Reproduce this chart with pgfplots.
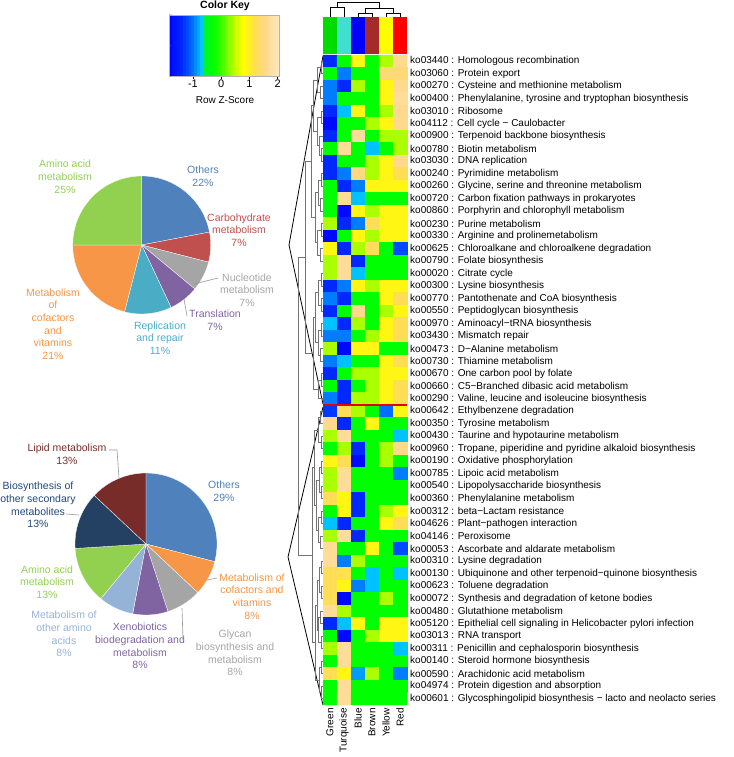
\documentclass[border=0pt]{standalone}
\usepackage{pgfplots}
\pgfplotsset{compat=1.18}
\usepackage{fontspec}
\setmainfont{Liberation Sans}
\definecolor{pblue}{RGB}{79,129,189}
\definecolor{pred}{RGB}{192,80,77}
\definecolor{pgray}{RGB}{165,165,165}
\definecolor{ppurple}{RGB}{128,100,162}
\definecolor{paqua}{RGB}{75,172,198}
\definecolor{porange}{RGB}{247,150,70}
\definecolor{pgreen}{RGB}{146,208,80}
\definecolor{plblue}{RGB}{149,179,215}
\definecolor{pnavy}{RGB}{36,64,98}
\definecolor{pnavytxt}{RGB}{31,73,125}
\definecolor{pdred}{RGB}{119,44,42}
\definecolor{cGreen}{RGB}{0,220,0}
\definecolor{cTurq}{RGB}{64,224,208}
\definecolor{cBlue}{RGB}{0,0,255}
\definecolor{cBrown}{RGB}{165,42,42}
\definecolor{cYellow}{RGB}{255,255,0}
\definecolor{cRed}{RGB}{255,0,0}
\definecolor{leader}{RGB}{150,150,150}
\pgfplotsset{colormap={hm}{rgb255(0pt)=(0,0,255); rgb255(45pt)=(0,40,255); rgb255(85pt)=(0,110,255); rgb255(115pt)=(0,200,255); rgb255(121pt)=(0,240,60); rgb255(155pt)=(0,255,0); rgb255(185pt)=(50,255,0); rgb255(225pt)=(170,255,0); rgb255(265pt)=(255,255,0); rgb255(300pt)=(255,225,70); rgb255(340pt)=(255,215,135); rgb255(390pt)=(255,232,192)}}
\newcommand{\dn}[5]{\addplot[dendro] coordinates {(#2,#3) (#1,#3) (#1,#5) (#4,#5)};}
\begin{document}
\begin{tikzpicture}
\useasboundingbox (0,0) rectangle (733pt,-757pt);
\tikzset{pl/.style={font=\fontsize{10.5}{12.7}\selectfont, align=center, inner sep=0pt}}
% ---------------- upper pie
\begin{scope}[shift={(141.7pt,-245pt)}]
\foreach \p/\c [remember=\e as \s (initially 90)] in {22/pblue,7/pred,7/pgray,7/ppurple,11/paqua,21/porange,25/pgreen}{
  \pgfmathsetmacro{\e}{\s-3.6*\p}
  \fill[\c, draw=white, line width=0.3pt] (0,0) -- (\s:69pt) arc[start angle=\s, end angle=\e, radius=69pt] -- cycle;
}
\end{scope}
% ---------------- lower pie
\begin{scope}[shift={(146pt,-544pt)}]
\foreach \p/\c [remember=\e as \s (initially 90)] in {29/pblue,8/porange,8/pgray,8/ppurple,8/plblue,13/pgreen,13/pnavy,13/pdred}{
  \pgfmathsetmacro{\e}{\s-3.6*\p}
  \fill[\c, draw=white, line width=0.3pt] (0,0) -- (\s:71pt) arc[start angle=\s, end angle=\e, radius=71pt] -- cycle;
}
\end{scope}
% ---------------- pie labels
\node[pl, text=pgreen] at (65pt,-176.7pt) {Amino acid\\metabolism\\25\%};
\node[pl, text=pblue] at (203pt,-176pt) {Others\\22\%};
\node[pl, text=pred] at (239pt,-230pt) {Carbohydrate\\metabolism\\7\%};
\node[pl, text=pgray] at (247pt,-290pt) {Nucleotide\\metabolism\\7\%};
\node[pl, text=ppurple] at (215pt,-320pt) {Translation\\7\%};
\node[pl, text=paqua] at (160pt,-338pt) {Replication\\and repair\\11\%};
\node[pl, text=porange] at (53pt,-324pt) {Metabolism\\of\\cofactors\\and\\vitamins\\21\%};
\node[pl, text=pdred] at (67pt,-454pt) {Lipid metabolism\\13\%};
\node[pl, text=pnavytxt] at (38pt,-505pt) {Biosynthesis of\\other secondary\\metabolites\\13\%};
\node[pl, text=pblue] at (224pt,-491pt) {Others\\29\%};
\node[pl, text=pgreen] at (47pt,-582pt) {Amino acid\\metabolism\\13\%};
\node[pl, text=porange] at (252pt,-596.5pt) {Metabolism of\\cofactors and\\vitamins\\8\%};
\node[pl, text=plblue] at (64pt,-634pt) {Metabolism of\\other amino\\acids\\8\%};
\node[pl, text=ppurple] at (140pt,-646pt) {Xenobiotics\\biodegradation and\\metabolism\\8\%};
\node[pl, text=pgray] at (235pt,-653pt) {Glycan\\biosynthesis and\\metabolism\\8\%};
% ---------------- colour key
\begin{axis}[at={(169pt,-15pt)}, anchor=north west, scale only axis, width=110pt, height=61pt,
  xmin=-1.85, xmax=2.05, ymin=0, ymax=1, colormap name=hm, point meta min=-1.85, point meta max=2.05,
  xtick={-1,0,1,2}, ytick=\empty, xtick pos=bottom, tick align=outside, major tick length=3pt,
  axis line style={draw=gray!60, line width=0.4pt}, tick style={black, line width=0.5pt},
  xticklabel style={font=\fontsize{11}{12}\selectfont, inner sep=1pt},
  /pgf/number format/assume math mode=true, axis on top]
\addplot[matrix plot*, mesh/cols=39, point meta=x] coordinates {
(-1.8,0.25) (-1.7,0.25) (-1.6,0.25) (-1.5,0.25) (-1.4,0.25) (-1.3,0.25) (-1.2,0.25) (-1.1,0.25) (-1.0,0.25) (-0.9,0.25) (-0.8,0.25) (-0.7,0.25) (-0.6,0.25) (-0.5,0.25) (-0.4,0.25) (-0.3,0.25) (-0.2,0.25) (-0.1,0.25) (0.0,0.25) (0.1,0.25) (0.2,0.25) (0.3,0.25) (0.4,0.25) (0.5,0.25) (0.6,0.25) (0.7,0.25) (0.8,0.25) (0.9,0.25) (1.0,0.25) (1.1,0.25) (1.2,0.25) (1.3,0.25) (1.4,0.25) (1.5,0.25) (1.6,0.25) (1.7,0.25) (1.8,0.25) (1.9,0.25) (2.0,0.25)
(-1.8,0.75) (-1.7,0.75) (-1.6,0.75) (-1.5,0.75) (-1.4,0.75) (-1.3,0.75) (-1.2,0.75) (-1.1,0.75) (-1.0,0.75) (-0.9,0.75) (-0.8,0.75) (-0.7,0.75) (-0.6,0.75) (-0.5,0.75) (-0.4,0.75) (-0.3,0.75) (-0.2,0.75) (-0.1,0.75) (0.0,0.75) (0.1,0.75) (0.2,0.75) (0.3,0.75) (0.4,0.75) (0.5,0.75) (0.6,0.75) (0.7,0.75) (0.8,0.75) (0.9,0.75) (1.0,0.75) (1.1,0.75) (1.2,0.75) (1.3,0.75) (1.4,0.75) (1.5,0.75) (1.6,0.75) (1.7,0.75) (1.8,0.75) (1.9,0.75) (2.0,0.75)
};
\end{axis}
\node[font=\fontsize{10.5}{12}\selectfont\bfseries] at (225pt,-6pt) {Color Key};
\node[font=\fontsize{10}{12}\selectfont] at (225pt,-100pt) {Row Z-Score};
% ---------------- connectors and leaders
\begin{axis}[at={(0pt,0pt)}, anchor=north west, scale only axis, width=733pt, height=757pt,
  xmin=0, xmax=733, ymin=0, ymax=757, y dir=reverse, hide axis, clip=false]
\addplot[black, line width=0.8pt] coordinates {(323,56) (289,245) (323,404)};
\addplot[black, line width=0.8pt] coordinates {(323,407) (288,557) (323,705)};
\addplot[leader, line width=0.6pt] coordinates {(194,284) (218,278)};
\addplot[leader, line width=0.6pt] coordinates {(184,299) (187,316)};
\addplot[leader, line width=0.6pt] coordinates {(109,450) (117,450) (119,478)};
\addplot[leader, line width=0.6pt] coordinates {(66,514) (79,515)};
\addplot[leader, line width=0.6pt] coordinates {(207,580) (217,578)};
\addplot[leader, line width=0.6pt] coordinates {(182,608) (183,640)};
\end{axis}
% ---------------- row dendrogram
\begin{axis}[at={(296pt,-1.25pt)}, anchor=north west, scale only axis, width=27pt, height=703.75pt,
  xmin=296, xmax=323, ymin=-3.8, ymax=52.5, y dir=reverse, hide axis, clip=false,
  dendro/.style={draw=black!55, line width=0.6pt}]
\dn{321}{323}{1}{323}{2}
\dn{320}{323}{3}{323}{4}
\dn{317}{321}{1.5}{320}{3.5}
\dn{321}{323}{5}{323}{6}
\dn{321.5}{323}{8}{323}{9}
\dn{319}{323}{7}{321.5}{8.5}
\dn{317}{321}{5.5}{319}{7.75}
\dn{313}{317}{2.5}{317}{6.625}
\dn{321}{323}{10}{323}{11}
\dn{320.5}{323}{12}{323}{13}
\dn{318}{321}{10.5}{320.5}{12.5}
\dn{321}{323}{14}{323}{15}
\dn{320}{323}{16}{323}{17}
\dn{317.5}{321}{14.5}{320}{16.5}
\dn{315}{318}{11.5}{317.5}{15.5}
\dn{311}{313}{4.5625}{315}{13.5}
\dn{321}{323}{18}{323}{19}
\dn{321.5}{323}{20}{323}{21}
\dn{318.5}{321}{18.5}{321.5}{20.5}
\dn{321}{323}{22}{323}{23}
\dn{320.5}{323}{24}{323}{25}
\dn{318}{321}{22.5}{320.5}{24.5}
\dn{315.5}{318.5}{19.5}{318}{23.5}
\dn{321}{323}{26}{323}{27}
\dn{318.5}{321}{26.5}{323}{28}
\dn{313}{315.5}{21.5}{318.5}{27.25}
\dn{305}{311}{9.03}{313}{24.375}
\dn{320}{323}{29}{323}{30}
\dn{321}{323}{31}{323}{32}
\dn{318}{320}{29.5}{321}{31.5}
\dn{321.5}{323}{33}{323}{34}
\dn{321}{323}{35}{323}{36}
\dn{319}{321.5}{33.5}{321}{35.5}
\dn{321}{323}{37}{323}{38}
\dn{320.5}{323}{39}{323}{40}
\dn{318.5}{321}{37.5}{320.5}{39.5}
\dn{316.5}{319}{34.5}{318.5}{38.5}
\dn{314.5}{318}{30.5}{316.5}{36.5}
\dn{321}{323}{41}{323}{42}
\dn{321.5}{323}{43}{323}{44}
\dn{319}{321}{41.5}{321.5}{43.5}
\dn{320}{323}{45}{323}{46}
\dn{321}{323}{47}{323}{48}
\dn{318.5}{320}{45.5}{321}{47.5}
\dn{317}{319}{42.5}{318.5}{46.5}
\dn{321}{323}{49}{323}{50}
\dn{321.5}{323}{51}{323}{52}
\dn{319}{321}{49.5}{321.5}{51.5}
\dn{315.5}{317}{44.5}{319}{50.5}
\dn{312}{314.5}{33.5}{315.5}{47.5}
\dn{298}{305}{16.7}{312}{40.5}
\end{axis}
% ---------------- heatmap
\begin{axis}[at={(296pt,-1.25pt)}, anchor=north west, scale only axis, width=111pt, height=703.75pt,
  xmin=-2.428571, xmax=5.5, ymin=-3.8, ymax=52.5, y dir=reverse, clip=false,
  axis line style={draw=none}, major tick length=0pt,
  colormap name=hm, point meta min=-1.85, point meta max=2.05,
  xtick=\empty,
  ytick={1,...,52}, yticklabel pos=right,
  yticklabel style={font=\fontsize{10}{11}\selectfont, anchor=west, inner sep=0pt, xshift=3pt},
  yticklabels={ko03440 : Homologous recombination, ko03060 : Protein export, ko00270 : Cysteine and methionine metabolism, {ko00400 : Phenylalanine, tyrosine and tryptophan biosynthesis}, ko03010 : Ribosome, ko04112 : Cell cycle − Caulobacter, ko00900 : Terpenoid backbone biosynthesis, ko00780 : Biotin metabolism, ko03030 : DNA replication, ko00240 : Pyrimidine metabolism, {ko00260 : Glycine, serine and threonine metabolism}, ko00720 : Carbon fixation pathways in prokaryotes, ko00860 : Porphyrin and chlorophyll metabolism, ko00230 : Purine metabolism, ko00330 : Arginine and prolinemetabolism, ko00625 : Chloroalkane and chloroalkene degradation, ko00790 : Folate biosynthesis, ko00020 : Citrate cycle, ko00300 : Lysine biosynthesis, ko00770 : Pantothenate and CoA biosynthesis, ko00550 : Peptidoglycan biosynthesis, ko00970 : Aminoacyl−tRNA biosynthesis, ko03430 : Mismatch repair, ko00473 : D−Alanine metabolism, ko00730 : Thiamine metabolism, ko00670 : One carbon pool by folate, ko00660 : C5−Branched dibasic acid metabolism, {ko00290 : Valine, leucine and isoleucine biosynthesis}, ko00642 : Ethylbenzene degradation, ko00350 : Tyrosine metabolism, ko00430 : Taurine and hypotaurine metabolism, {ko00960 : Tropane, piperidine and pyridine alkaloid biosynthesis}, ko00190 : Oxidative phosphorylation, ko00785 : Lipoic acid metabolism, ko00540 : Lipopolysaccharide biosynthesis, ko00360 : Phenylalanine metabolism, ko00312 : beta−Lactam resistance, ko04626 : Plant−pathogen interaction, ko04146 : Peroxisome, ko00053 : Ascorbate and aldarate metabolism, ko00310 : Lysine degradation, ko00130 : Ubiquinone and other terpenoid−quinone biosynthesis, ko00623 : Toluene degradation, ko00072 : Synthesis and degradation of ketone bodies, ko00480 : Glutathione metabolism, ko05120 : Epithelial cell signaling in Helicobacter pylori infection, ko03013 : RNA transport, ko00311 : Penicillin and cephalosporin biosynthesis, ko00140 : Steroid hormone biosynthesis, ko00590 : Arachidonic acid metabolism, ko04974 : Protein digestion and absorption, ko00601 : Glycosphingolipid biosynthesis − lacto and neolacto series}]
\addplot[matrix plot*, mesh/cols=6, point meta=explicit] coordinates {
(0,1)[-1.4] (1,1)[-0.3] (2,1)[0.9] (3,1)[-0.3] (4,1)[0.4] (5,1)[1.6]
(0,2)[-0.3] (1,2)[-0.95] (2,2)[-0.3] (3,2)[-0.3] (4,2)[1.45] (5,2)[1.45]
(0,3)[-0.95] (1,3)[-1.4] (2,3)[0.4] (3,3)[-0.3] (4,3)[0.9] (5,3)[1.6]
(0,4)[-0.95] (1,4)[-0.3] (2,4)[-0.3] (3,4)[-0.3] (4,4)[0.9] (5,4)[1.7]
(0,5)[-1.4] (1,5)[-0.72] (2,5)[0.9] (3,5)[-0.3] (4,5)[0.4] (5,5)[1.6]
(0,6)[-1.75] (1,6)[-0.3] (2,6)[-0.3] (3,6)[0.4] (4,6)[0.9] (5,6)[1.6]
(0,7)[-1.4] (1,7)[-0.3] (2,7)[1.7] (3,7)[-0.3] (4,7)[0.4] (5,7)[0.4]
(0,8)[-0.3] (1,8)[1.7] (2,8)[-0.3] (3,8)[-0.72] (4,8)[-0.3] (5,8)[0.4]
(0,9)[-1.4] (1,9)[-0.3] (2,9)[-0.3] (3,9)[0.4] (4,9)[0.9] (5,9)[1.6]
(0,10)[-1.4] (1,10)[-0.95] (2,10)[1.5] (3,10)[0.4] (4,10)[0.9] (5,10)[1.25]
(0,11)[-0.3] (1,11)[-1.4] (2,11)[-0.95] (3,11)[0.9] (4,11)[0.9] (5,11)[0.9]
(0,12)[-0.3] (1,12)[1.7] (2,12)[-0.72] (3,12)[-0.3] (4,12)[-0.3] (5,12)[-0.3]
(0,13)[-0.3] (1,13)[-1.75] (2,13)[0.9] (3,13)[0.4] (4,13)[0.9] (5,13)[0.9]
(0,14)[0.4] (1,14)[-1.4] (2,14)[-0.95] (3,14)[1.25] (4,14)[0.9] (5,14)[0.9]
(0,15)[-1.75] (1,15)[-0.3] (2,15)[0.9] (3,15)[0.4] (4,15)[0.9] (5,15)[0.9]
(0,16)[0.9] (1,16)[-1.4] (2,16)[0.4] (3,16)[1.25] (4,16)[-0.3] (5,16)[-1.2]
(0,17)[0.4] (1,17)[1.7] (2,17)[-1.4] (3,17)[-0.3] (4,17)[-0.3] (5,17)[-0.3]
(0,18)[0.4] (1,18)[1.7] (2,18)[-0.72] (3,18)[-0.3] (4,18)[-0.3] (5,18)[-0.3]
(0,19)[-1.4] (1,19)[-0.95] (2,19)[0.9] (3,19)[0.4] (4,19)[0.9] (5,19)[0.9]
(0,20)[-0.95] (1,20)[-1.4] (2,20)[-0.3] (3,20)[-0.3] (4,20)[0.9] (5,20)[1.25]
(0,21)[-1.4] (1,21)[-0.3] (2,21)[1.6] (3,21)[-0.3] (4,21)[0.4] (5,21)[0.9]
(0,22)[-0.72] (1,22)[-1.4] (2,22)[0.4] (3,22)[-0.3] (4,22)[0.9] (5,22)[1.25]
(0,23)[-0.95] (1,23)[-0.95] (2,23)[-0.3] (3,23)[0.4] (4,23)[0.9] (5,23)[1.25]
(0,24)[0.4] (1,24)[-1.75] (2,24)[0.9] (3,24)[0.9] (4,24)[-0.3] (5,24)[-0.3]
(0,25)[-0.95] (1,25)[-0.72] (2,25)[-0.3] (3,25)[-0.3] (4,25)[0.9] (5,25)[1.25]
(0,26)[-1.4] (1,26)[-0.3] (2,26)[0.4] (3,26)[0.4] (4,26)[0.9] (5,26)[0.9]
(0,27)[-0.3] (1,27)[-1.4] (2,27)[-0.3] (3,27)[0.4] (4,27)[0.9] (5,27)[1.25]
(0,28)[-0.95] (1,28)[-1.4] (2,28)[0.4] (3,28)[0.4] (4,28)[0.9] (5,28)[1.25]
(0,29)[-1.3] (1,29)[1.25] (2,29)[0.4] (3,29)[-0.3] (4,29)[-1.0] (5,29)[0.9]
(0,30)[1.6] (1,30)[-1.4] (2,30)[-0.3] (3,30)[0.9] (4,30)[-0.3] (5,30)[-0.3]
(0,31)[0.4] (1,31)[1.7] (2,31)[-0.3] (3,31)[-0.3] (4,31)[-0.3] (5,31)[-0.72]
(0,32)[-0.3] (1,32)[0.4] (2,32)[-1.4] (3,32)[-0.3] (4,32)[0.4] (5,32)[1.6]
(0,33)[0.9] (1,33)[1.25] (2,33)[-1.75] (3,33)[-0.3] (4,33)[0.4] (5,33)[-0.3]
(0,34)[0.4] (1,34)[1.7] (2,34)[-0.3] (3,34)[-0.3] (4,34)[-0.3] (5,34)[-0.95]
(0,35)[0.4] (1,35)[1.7] (2,35)[-0.3] (3,35)[-0.3] (4,35)[-0.3] (5,35)[-0.3]
(0,36)[1.25] (1,36)[0.9] (2,36)[-1.4] (3,36)[-0.3] (4,36)[-0.3] (5,36)[-0.3]
(0,37)[-0.3] (1,37)[0.9] (2,37)[-1.4] (3,37)[-0.3] (4,37)[0.4] (5,37)[0.9]
(0,38)[-0.72] (1,38)[-1.4] (2,38)[-0.3] (3,38)[-0.3] (4,38)[0.9] (5,38)[1.25]
(0,39)[0.4] (1,39)[1.7] (2,39)[-1.4] (3,39)[-0.3] (4,39)[-0.3] (5,39)[-0.3]
(0,40)[1.7] (1,40)[-0.3] (2,40)[-0.3] (3,40)[0.9] (4,40)[-0.3] (5,40)[-1.2]
(0,41)[1.7] (1,41)[-0.95] (2,41)[0.4] (3,41)[-0.3] (4,41)[-0.3] (5,41)[-0.3]
(0,42)[1.25] (1,42)[1.2] (2,42)[-0.3] (3,42)[-0.72] (4,42)[-0.3] (5,42)[-0.72]
(0,43)[1.25] (1,43)[0.9] (2,43)[-0.95] (3,43)[-0.72] (4,43)[-0.3] (5,43)[-0.3]
(0,44)[1.25] (1,44)[-1.75] (2,44)[-0.3] (3,44)[-0.3] (4,44)[0.4] (5,44)[-0.3]
(0,45)[1.7] (1,45)[0.4] (2,45)[-0.3] (3,45)[-0.3] (4,45)[-0.3] (5,45)[-0.3]
(0,46)[-1.4] (1,46)[-0.72] (2,46)[0.9] (3,46)[-0.3] (4,46)[0.9] (5,46)[0.9]
(0,47)[-0.3] (1,47)[-1.75] (2,47)[-0.3] (3,47)[0.4] (4,47)[0.9] (5,47)[0.9]
(0,48)[0.4] (1,48)[1.7] (2,48)[-0.3] (3,48)[-0.3] (4,48)[-0.3] (5,48)[-0.72]
(0,49)[-0.3] (1,49)[1.7] (2,49)[-0.3] (3,49)[-0.3] (4,49)[-0.3] (5,49)[-0.3]
(0,50)[1.25] (1,50)[0.9] (2,50)[-0.85] (3,50)[0.4] (4,50)[-0.3] (5,50)[-0.95]
(0,51)[-0.3] (1,51)[1.7] (2,51)[-0.3] (3,51)[-0.3] (4,51)[-0.3] (5,51)[-0.3]
(0,52)[-0.3] (1,52)[1.7] (2,52)[-0.3] (3,52)[-0.3] (4,52)[-0.3] (5,52)[-0.3]
};
% column side colours
\addplot[fill=cGreen, draw=none] coordinates {(-0.5,-2.54) (0.5,-2.54) (0.5,0.42) (-0.5,0.42)};
\addplot[fill=cTurq, draw=none] coordinates {(0.5,-2.54) (1.5,-2.54) (1.5,0.42) (0.5,0.42)};
\addplot[fill=cBlue, draw=none] coordinates {(1.5,-2.54) (2.5,-2.54) (2.5,0.42) (1.5,0.42)};
\addplot[fill=cBrown, draw=none] coordinates {(2.5,-2.54) (3.5,-2.54) (3.5,0.42) (2.5,0.42)};
\addplot[fill=cYellow, draw=none] coordinates {(3.5,-2.54) (4.5,-2.54) (4.5,0.42) (3.5,0.42)};
\addplot[fill=cRed, draw=none] coordinates {(4.5,-2.54) (5.5,-2.54) (5.5,0.42) (4.5,0.42)};
% column dendrogram
\addplot[black, line width=0.7pt] coordinates {(0,-2.54) (0,-3.34) (1,-3.34) (1,-2.54)};
\addplot[black, line width=0.7pt] coordinates {(2,-2.54) (2,-2.86) (3,-2.86) (3,-2.54)};
\addplot[black, line width=0.7pt] coordinates {(4,-2.54) (4,-2.82) (5,-2.82) (5,-2.54)};
\addplot[black, line width=0.7pt] coordinates {(2.5,-2.86) (2.5,-3.2) (4.5,-3.2) (4.5,-2.82)};
\addplot[black, line width=0.7pt] coordinates {(0.5,-3.34) (0.5,-3.72) (3.5,-3.72) (3.5,-3.2)};
% red separator
\addplot[red!90!black, line width=1.6pt] coordinates {(-0.5,28.5) (5.5,28.5)};
% column names
\node[rotate=90, anchor=east, font=\fontsize{10}{12}\selectfont, inner sep=0pt] at (axis cs:0,52.75) {Green};
\node[rotate=90, anchor=east, font=\fontsize{10}{12}\selectfont, inner sep=0pt] at (axis cs:1,52.75) {Turquoise};
\node[rotate=90, anchor=east, font=\fontsize{10}{12}\selectfont, inner sep=0pt] at (axis cs:2,52.75) {Blue};
\node[rotate=90, anchor=east, font=\fontsize{10}{12}\selectfont, inner sep=0pt] at (axis cs:3,52.75) {Brown};
\node[rotate=90, anchor=east, font=\fontsize{10}{12}\selectfont, inner sep=0pt] at (axis cs:4,52.75) {Yellow};
\node[rotate=90, anchor=east, font=\fontsize{10}{12}\selectfont, inner sep=0pt] at (axis cs:5,52.75) {Red};
\end{axis}
\end{tikzpicture}
\end{document}
